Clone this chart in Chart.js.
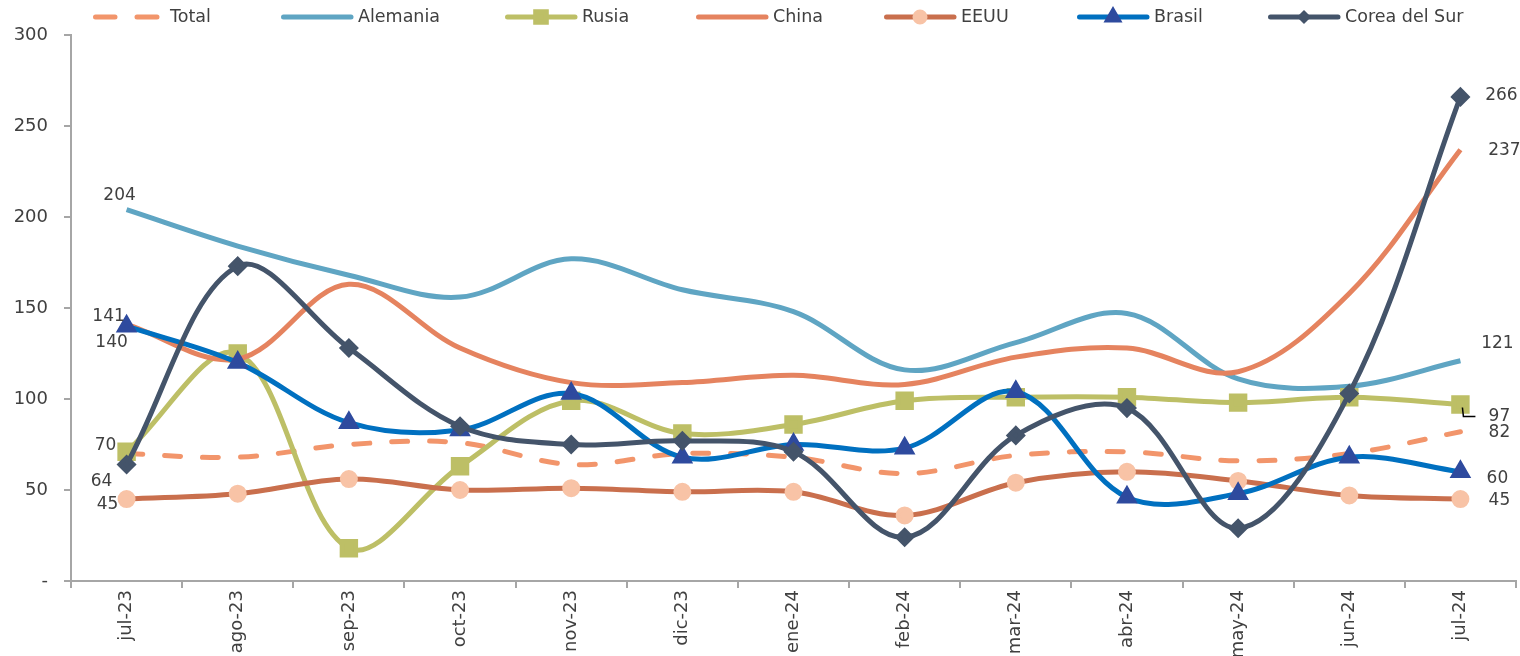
<!DOCTYPE html>
<html>
<head>
<meta charset="utf-8">
<script src="https://cdn.jsdelivr.net/npm/chart.js@4.4.0/dist/chart.umd.min.js"></script>
<style>
  html, body { margin: 0; padding: 0; background: #fff; }
</style>
</head>
<body>
<canvas id="myChart" width="1520" height="656"></canvas>
<script>
var meses = ['jul-23', 'ago-23', 'sep-23', 'oct-23', 'nov-23', 'dic-23', 'ene-24',
             'feb-24', 'mar-24', 'abr-24', 'may-24', 'jun-24', 'jul-24'];
var total    = [70, 68, 75, 76, 64, 70, 68, 59, 69, 71, 66, 70, 82];
var alemania = [204, 184, 168, 156, 177, 160, 148, 116, 131, 147, 111, 107, 121];
var rusia    = [71, 125, 18, 63, 99, 81, 86, 99, 101, 101, 98, 101, 97];
var china    = [141, 122, 163, 128, 109, 109, 113, 108, 123, 128, 115, 158, 237];
var eeuu     = [45, 48, 56, 50, 51, 49, 49, 36, 54, 60, 55, 47, 45];
var brasil   = [140, 120, 87, 83, 103, 68, 75, 73, 104, 46, 48, 68, 60];
var corea    = [64, 173, 128, 85, 75, 77, 71, 24, 80, 95, 29, 103, 266];
var yTicks   = [0, 50, 100, 150, 200, 250, 300];

var fuente = '"DejaVu Sans", sans-serif';
var gris = '#404040';

// where the value labels go: [point index, dx, dy]
var etiquetasPos = {
  'Total':         [[0, -21, -8], [12, 39, 1]],
  'Alemania':      [[0, -7, -14], [12, 37, -17]],
  'Rusia':         [[12, 39, 12]],
  'China':         [[0, -18, -8], [12, 44, 1]],
  'EEUU':          [[0, -19, 5], [12, 39, 1]],
  'Brasil':        [[0, -15, 16], [12, 37, 7]],
  'Corea del Sur': [[0, -25, 17], [12, 41, -1]]
};

// left edge of each legend sample
var leyendaX = [93, 281, 505, 696, 884, 1077, 1268];

var etiquetas = {
  id: 'etiquetas',
  afterDatasetsDraw: function(chart) {
    var ctx = chart.ctx;
    ctx.save();
    ctx.font = '17px ' + fuente;
    ctx.fillStyle = gris;
    ctx.textAlign = 'center';
    ctx.textBaseline = 'middle';
    chart.data.datasets.forEach(function(ds, i) {
      var meta = chart.getDatasetMeta(i);
      (etiquetasPos[ds.label] || []).forEach(function(p) {
        var pt = meta.data[p[0]];
        ctx.fillText(String(ds.data[p[0]]), pt.x + p[1], pt.y + p[2]);
      });
      if (ds.label === 'Rusia') {
        var u = meta.data[meta.data.length - 1];
        ctx.strokeStyle = '#000';
        ctx.lineWidth = 1.5;
        ctx.beginPath();
        ctx.moveTo(u.x + 2, u.y + 3);
        ctx.lineTo(u.x + 3, u.y + 12);
        ctx.lineTo(u.x + 15, u.y + 12);
        ctx.stroke();
      }
    });
    ctx.restore();
  }
};

// legend drawn by hand so the line sample carries the marker
var leyenda = {
  id: 'leyenda',
  afterDraw: function(chart) {
    var ctx = chart.ctx;
    var y = 17;
    ctx.save();
    ctx.font = '17.5px ' + fuente;
    ctx.textBaseline = 'middle';
    ctx.textAlign = 'left';
    chart.data.datasets.forEach(function(ds, i) {
      var x = leyendaX[i];
      ctx.strokeStyle = ds.borderColor;
      ctx.lineWidth = 5;
      ctx.lineCap = 'round';
      ctx.beginPath();
      if (ds.borderDash && ds.borderDash.length) {
        ctx.moveTo(x + 2.5, y); ctx.lineTo(x + 22, y);
        ctx.moveTo(x + 44, y); ctx.lineTo(x + 64, y);
      } else {
        ctx.moveTo(x + 2.5, y); ctx.lineTo(x + 70, y);
      }
      ctx.stroke();
      if (ds.pointRadius > 0) {
        ctx.fillStyle = ds.pointBackgroundColor;
        ctx.strokeStyle = ds.pointBorderColor;
        Chart.helpers.drawPoint(ctx, {
          pointStyle: ds.pointStyle,
          radius: ds.legendRadius,
          rotation: 0,
          borderWidth: 1
        }, x + 36, y);
      }
      ctx.fillStyle = gris;
      ctx.fillText(ds.label, x + 77, y);
    });
    ctx.restore();
  }
};

var ctx = document.getElementById('myChart').getContext('2d');
var myChart = new Chart(ctx, {
  type: 'line',
  data: {
    labels: meses,
    datasets: [{
        label: 'Total',
        data: total,
        borderColor: '#F2956B',
        borderWidth: 5,
        borderDash: [16, 22],
        borderCapStyle: 'round',
        pointRadius: 0,
        order: 7
      }, {
        label: 'Alemania',
        data: alemania,
        borderColor: '#5FA5C3',
        borderWidth: 5,
        pointRadius: 0,
        order: 6
      }, {
        label: 'Rusia',
        data: rusia,
        borderColor: '#BDBF66',
        borderWidth: 5,
        pointStyle: 'rect',
        pointRadius: 9.5,
        legendRadius: 7.5,
        pointBackgroundColor: '#BDBF66',
        pointBorderColor: '#BDBF66',
        order: 5
      }, {
        label: 'China',
        data: china,
        borderColor: '#E5835F',
        borderWidth: 5,
        pointRadius: 0,
        order: 4
      }, {
        label: 'EEUU',
        data: eeuu,
        borderColor: '#C96F4D',
        borderWidth: 5,
        pointStyle: 'circle',
        pointRadius: 6.5,
        legendRadius: 5,
        pointBackgroundColor: '#F8C3A6',
        pointBorderColor: '#F8C3A6',
        order: 3
      }, {
        label: 'Brasil',
        data: brasil,
        borderColor: '#0070C0',
        borderWidth: 5,
        pointStyle: 'triangle',
        pointRadius: 7.5,
        legendRadius: 6,
        pointBackgroundColor: '#2E4A9E',
        pointBorderColor: '#2E4A9E',
        order: 2
      }, {
        label: 'Corea del Sur',
        data: corea,
        borderColor: '#44546A',
        borderWidth: 5,
        pointStyle: 'rectRot',
        pointRadius: 6.5,
        legendRadius: 3.5,
        pointBackgroundColor: '#44546A',
        pointBorderColor: '#44546A',
        order: 1
      }
    ]
  },
  options: {
    responsive: false,
    animation: false,
    devicePixelRatio: 1,
    layout: { autoPadding: false, padding: { top: 35, right: 4, left: 0, bottom: 0 } },
    elements: { line: { tension: 0.35 } },
    plugins: {
      legend: { display: false },
      tooltip: { enabled: false }
    },
    scales: {
      x: {
        offset: true,
        grid: { offset: true, drawOnChartArea: false, tickLength: 7, color: '#A6A6A6', lineWidth: 2 },
        border: { color: '#A6A6A6', width: 2 },
        ticks: {
          minRotation: 90, maxRotation: 90, padding: 2,
          color: gris, font: { family: fuente, size: 18 }
        },
        afterFit: function(scale) { scale.height = 75; }
      },
      y: {
        min: 0,
        max: 300,
        afterBuildTicks: function(scale) {
          scale.ticks = yTicks.map(function(v) { return { value: v }; });
        },
        grid: { drawOnChartArea: false, tickLength: 7, color: '#A6A6A6', lineWidth: 2 },
        border: { color: '#A6A6A6', width: 2 },
        ticks: {
          padding: 16,
          color: gris,
          font: { family: fuente, size: 18 },
          callback: function(v) { return v === 0 ? '-' : v; }
        },
        afterFit: function(scale) { scale.width = 71; }
      }
    }
  },
  plugins: [etiquetas, leyenda]
});
</script>
</body>
</html>
